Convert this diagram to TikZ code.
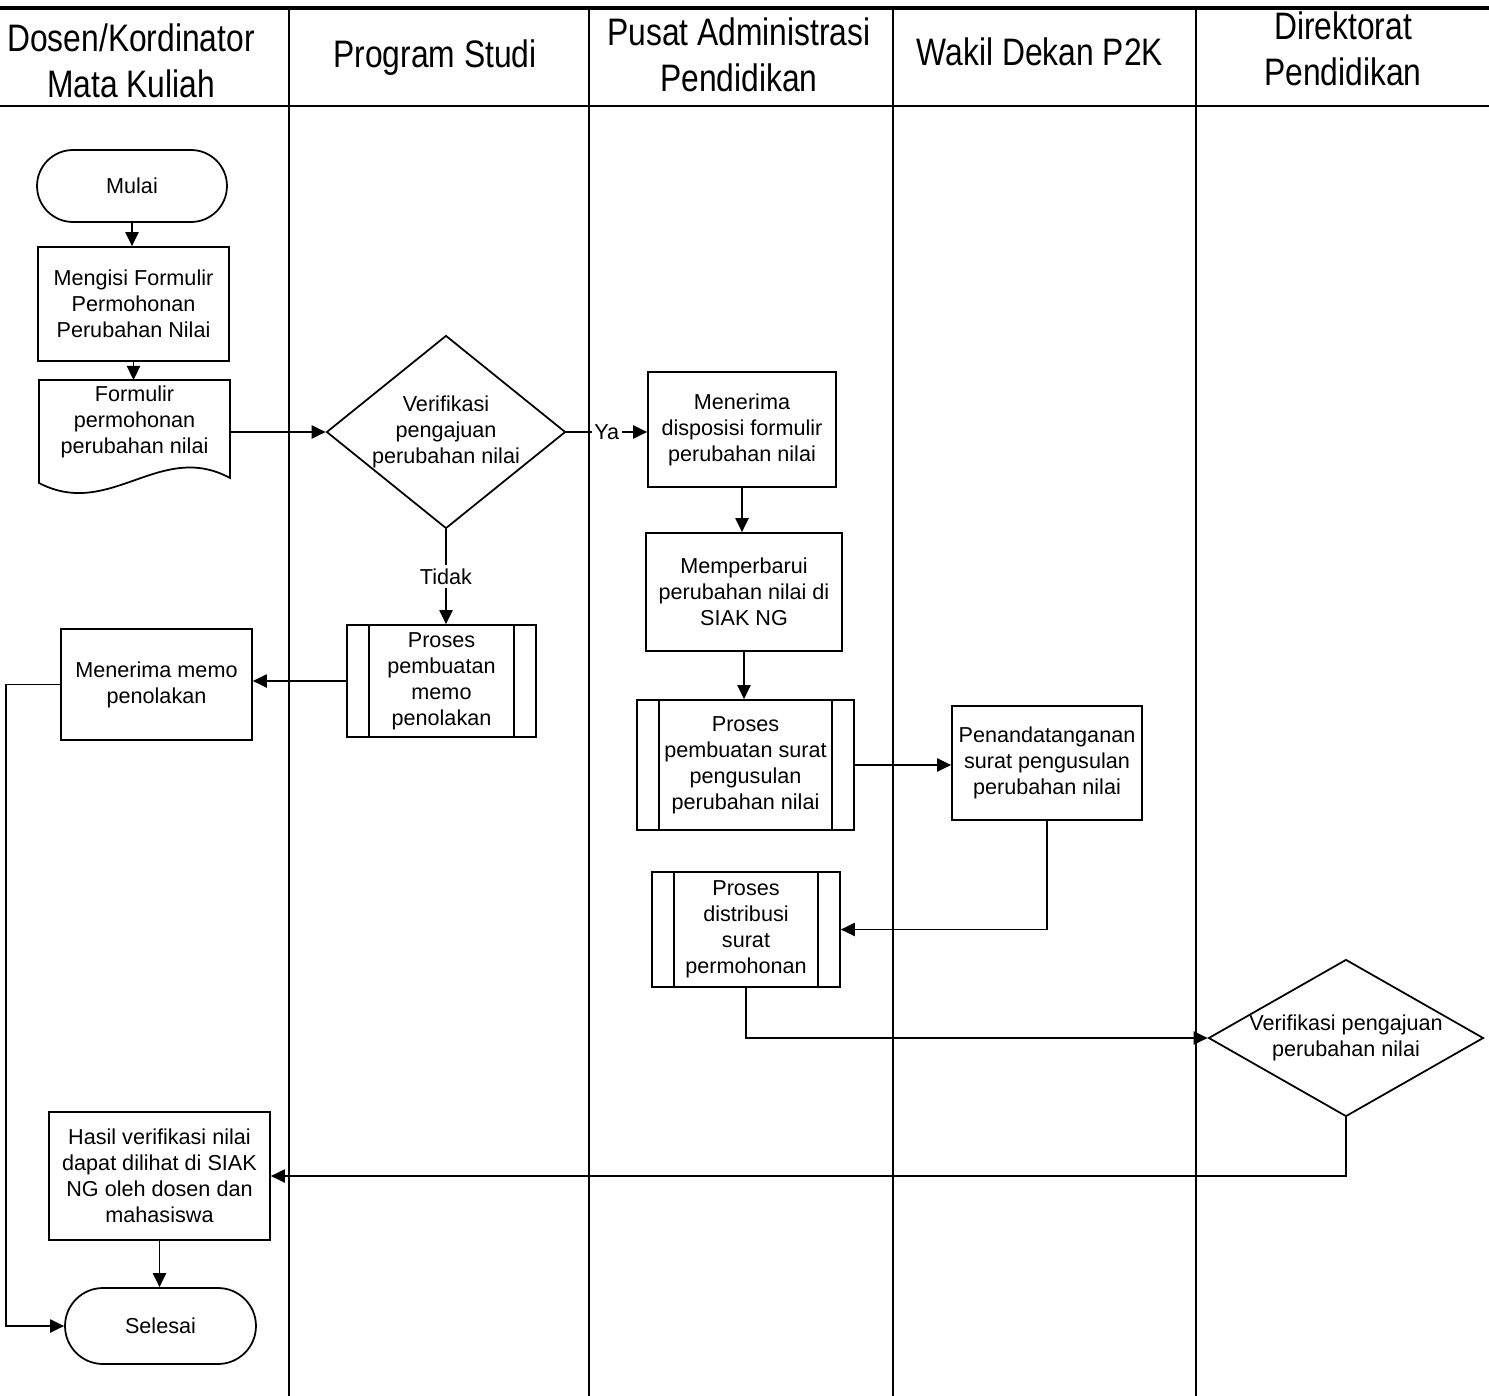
\documentclass[tikz,border=0pt]{standalone}
\usepackage{fontspec}
\setmainfont{Liberation Sans}
\newfontfamily\narrowfont[FakeStretch=0.83]{Liberation Sans}
\usetikzlibrary{shapes.geometric,arrows.meta}

\begin{document}
\begin{tikzpicture}[x=0.02cm,y=-0.02cm,
  every node/.style={font=\fontsize{12.3}{14.8}\selectfont, align=center, inner sep=0pt},
  head/.style={font=\narrowfont\fontsize{21.8}{26}\selectfont, align=center},
  proc/.style={draw, line width=1pt, rectangle},
  term/.style={draw, line width=1pt, rectangle},
  dia/.style={draw, line width=1pt, diamond, inner sep=0pt},
  lane/.style={line width=1pt},
  arr/.style={-{Triangle[length=8pt,width=7.5pt]}, line width=1pt},
  con/.style={line width=1pt}]

\useasboundingbox (0,0) rectangle (1489,1396);

% swimlane frame
\draw[line width=1.8pt] (0,8) -- (1489,8);
\draw[line width=1.3pt] (0,106) -- (1489,106);
\foreach \x in {289,589,893,1196} \draw[lane] (\x,8) -- (\x,1396);

% headers
\node[head] (h1) at (131,61) {Dosen/Kordinator\\Mata Kuliah};
\node[head] (h2) at (435,58) {Program Studi};
\node[head] (h3) at (739,55) {Pusat Administrasi\\Pendidikan};
\node[head] (h4) at (1040,52) {Wakil Dekan P2K};
\node[head] (h5) at (1343,49) {Direktorat\\Pendidikan};

% lane 1
\node[term, minimum width=3.80cm, minimum height=1.44cm, rounded corners=0.72cm] (mulai) at (132,186) {Mulai};
\node[proc, minimum width=3.82cm, minimum height=2.28cm] (isi) at (133.5,304) {Mengisi Formulir\\Permohonan\\Perubahan Nilai};
\draw[line width=1pt] (39,380) -- (230,380) -- (230,478) .. controls (160,440) and (110,520) .. (39,483) -- cycle;
\node[minimum width=3.82cm] (formulir) at (134.5,422) {Formulir\\permohonan\\perubahan nilai};
\node[proc, minimum width=3.82cm, minimum height=2.22cm] (memo) at (156.5,684.5) {Menerima memo\\penolakan};
\node[proc, minimum width=4.42cm, minimum height=2.56cm] (hasil) at (159.5,1176) {Hasil verifikasi nilai\\dapat dilihat di SIAK\\NG oleh dosen dan\\mahasiswa};
\node[term, minimum width=3.82cm, minimum height=1.52cm, rounded corners=0.76cm] (selesai) at (160.5,1326) {Selesai};

% lane 2
\node[dia, minimum width=4.78cm, minimum height=3.86cm] (v1) at (446,432) {};
\node at (v1) {Verifikasi\\pengajuan\\perubahan nilai};
\node[proc, minimum width=3.78cm, minimum height=2.24cm] (pmemo) at (441.5,681) {Proses\\pembuatan\\memo\\penolakan};
\draw[con] ([xshift=0.45cm]pmemo.north west) -- ([xshift=0.45cm]pmemo.south west);
\draw[con] ([xshift=-0.45cm]pmemo.north east) -- ([xshift=-0.45cm]pmemo.south east);

% lane 3
\node[proc, minimum width=3.76cm, minimum height=2.30cm] (disp) at (742,429.5) {Menerima\\disposisi formulir\\perubahan nilai};
\node[proc, minimum width=3.92cm, minimum height=2.36cm] (baru) at (744,592) {Memperbarui\\perubahan nilai di\\SIAK NG};
\node[proc, minimum width=4.34cm, minimum height=2.60cm] (surat) at (745.5,765) {Proses\\pembuatan surat\\pengusulan\\perubahan nilai};
\draw[con] ([xshift=0.45cm]surat.north west) -- ([xshift=0.45cm]surat.south west);
\draw[con] ([xshift=-0.45cm]surat.north east) -- ([xshift=-0.45cm]surat.south east);
\node[proc, minimum width=3.76cm, minimum height=2.30cm] (dist) at (746,929.5) {Proses\\distribusi\\surat\\permohonan};
\draw[con] ([xshift=0.45cm]dist.north west) -- ([xshift=0.45cm]dist.south west);
\draw[con] ([xshift=-0.45cm]dist.north east) -- ([xshift=-0.45cm]dist.south east);

% lane 4
\node[proc, minimum width=3.80cm, minimum height=2.28cm] (tanda) at (1047,763) {Penandatanganan\\surat pengusulan\\perubahan nilai};

% lane 5
\node[dia, minimum width=5.50cm, minimum height=3.14cm] (v2) at (1346,1038) {};
\node at (v2) {Verifikasi pengajuan\\perubahan nilai};

% connectors
\draw[arr] (mulai.south) -- (mulai.south |- isi.north);
\draw[arr] (isi.south) -- (isi.south |- 0,380);
\draw[arr] (formulir.east |- v1.west) -- (v1.west);
\draw[arr] (v1.east) -- node[fill=white, inner sep=1.5pt] {Ya} (v1.east -| disp.west);
\draw[arr] (v1.south) -- node[fill=white, inner sep=2pt] {Tidak} (v1.south |- pmemo.north);
\draw[arr] (pmemo.west) -- (pmemo.west -| memo.east);
\draw[arr] (memo.west) -- ++(-54,0) |- (selesai.west);
\draw[arr] (disp.south) -- (disp.south |- baru.north);
\draw[arr] (baru.south) -- (baru.south |- surat.north);
\draw[arr] (surat.east) -- (surat.east -| tanda.west);
\draw[arr] (tanda.south) |- (dist.east);
\draw[arr] (dist.south) |- (v2.west);
\draw[arr] (v2.south) |- (hasil.east);
\draw[arr] (hasil.south) -- (hasil.south |- selesai.north);
\end{tikzpicture}
\end{document}
